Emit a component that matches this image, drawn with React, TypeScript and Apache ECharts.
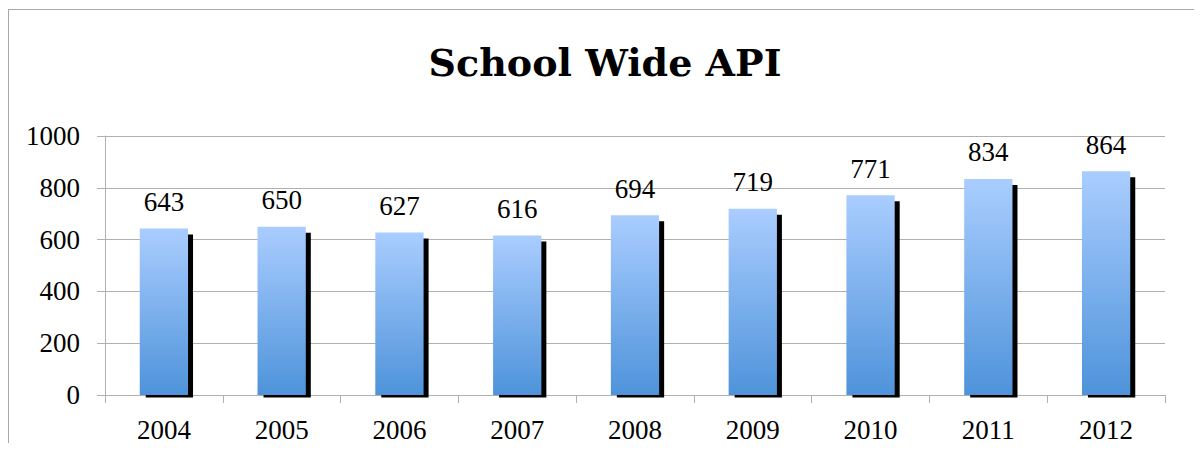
import React, { useEffect, useRef } from "react";
import * as echarts from "echarts";

const years = ["2004", "2005", "2006", "2007", "2008", "2009", "2010", "2011", "2012"];
const apiScores = [643, 650, 627, 616, 694, 719, 771, 834, 864];
const yTicks = { min: 0, max: 1000, interval: 200 };

const FONT = "'Liberation Serif', 'DejaVu Serif', serif";
const TITLE_FONT = "'DejaVu Serif', serif";
const GRID_GRAY = "#b0b0b0";

export default function App() {
  const ref = useRef<HTMLDivElement>(null);
  useEffect(() => {
    document.body.style.overflow = "hidden";
    const chart = echarts.init(ref.current!, null, { renderer: "svg" });
    chart.setOption({
      animation: false,
      backgroundColor: "#ffffff",
      title: {
        text: "School Wide API",
        left: "center",
        top: 30,
        textStyle: { fontFamily: TITLE_FONT, fontWeight: "bold", fontSize: 38, color: "#000" },
      },
      graphic: [
        { type: "line", shape: { x1: 0.5, y1: 1.5, x2: 0.5, y2: 440 }, style: { stroke: "#a8a8a8", lineWidth: 1 } },
        { type: "line", shape: { x1: 0, y1: 1.5, x2: 1194, y2: 1.5 }, style: { stroke: "#a8a8a8", lineWidth: 1 } },
      ],
      grid: { left: 97, right: 37, top: 128, bottom: 46, containLabel: false },
      xAxis: {
        type: "category",
        data: years,
        boundaryGap: true,
        axisLine: { show: true, lineStyle: { color: GRID_GRAY } },
        axisTick: { show: true, length: 8, lineStyle: { color: GRID_GRAY } },
        axisLabel: { fontFamily: FONT, fontSize: 27, color: "#000", margin: 21 },
        splitLine: { show: false },
      },
      yAxis: {
        type: "value",
        min: yTicks.min,
        max: yTicks.max,
        interval: yTicks.interval,
        axisLine: { show: true, lineStyle: { color: GRID_GRAY } },
        axisTick: { show: true, length: 8, lineStyle: { color: GRID_GRAY } },
        axisLabel: {
          fontFamily: FONT,
          fontSize: 27,
          color: "#000",
          margin: 25,
          formatter: (v: number) => String(v),
        },
        splitLine: { show: true, lineStyle: { color: GRID_GRAY } },
      },
      series: [
        {
          type: "custom",
          z: 1,
          silent: true,
          data: years.map((_, i) => [i, apiScores[i]]),
          encode: { x: 0, y: 1 },
          renderItem: (params: any, api: any) => {
            const idx = api.value(0);
            const v = api.value(1);
            const top = api.coord([idx, v]);
            const base = api.coord([idx, 0]);
            const band = api.size([1, 0])[0];
            const w = band * 0.41;
            return {
              type: "rect",
              shape: {
                x: top[0] - w / 2 + 6,
                y: top[1] + 6,
                width: w - 1,
                height: base[1] - top[1] - 6 + 2.5,
              },
              style: { fill: "#000" },
            };
          },
        },
        {
          type: "bar",
          z: 3,
          data: apiScores,
          barWidth: "41%",
          itemStyle: {
            color: new echarts.graphic.LinearGradient(0, 0, 0, 1, [
              { offset: 0, color: "#aacdff" },
              { offset: 1, color: "#4e93da" },
            ]),
          },
          label: {
            show: true,
            position: "top",
            distance: 13,
            fontFamily: FONT,
            fontSize: 27,
            color: "#000",
          },
        },
      ],
    });
    return () => chart.dispose();
  }, []);
  return <div ref={ref} style={{ width: 1194, height: 435 }} />;
}
